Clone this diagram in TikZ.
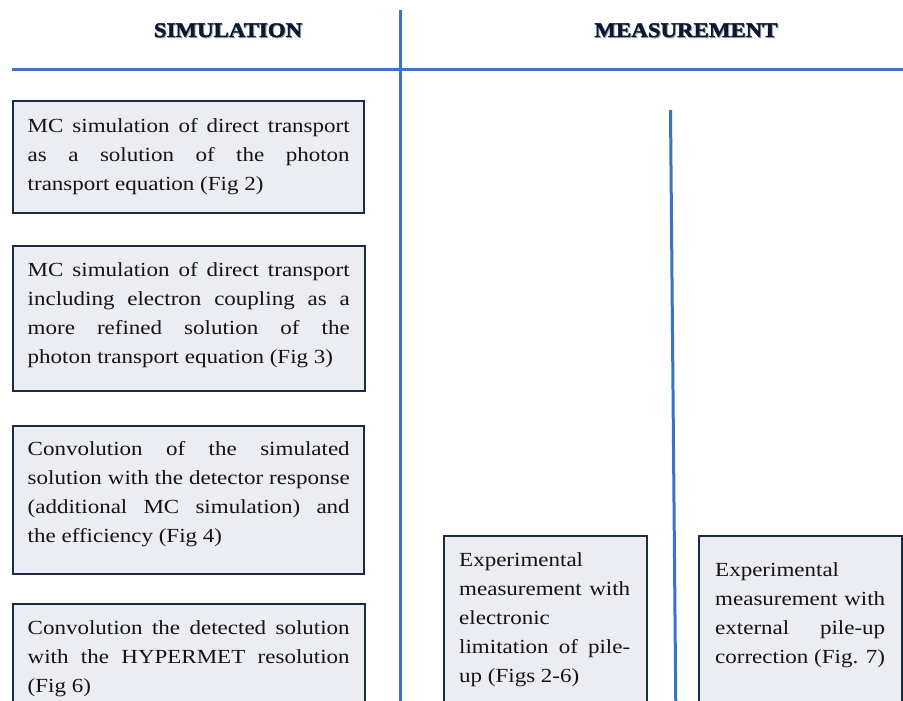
\documentclass[tikz,border=0pt]{standalone}
\usepackage{fontspec}
\setmainfont{Liberation Serif}[FakeStretch=1.15]
\newfontfamily\headfont{Liberation Serif}[FakeStretch=1.1, FakeBold=1.8, BoldFont={* Bold}]
\definecolor{rule}{HTML}{3A72C6}
\definecolor{boxline}{HTML}{1C2B48}
\definecolor{boxfill}{HTML}{EBEDF2}
\definecolor{heading}{HTML}{0C1830}
\definecolor{headshade}{HTML}{6F7E98}
% justified line and natural (last) line of a box text
\newcommand\jline[1]{\hbox to\linewidth{#1}}
\newcommand\nline[1]{\hbox{#1}}
\tikzset{
  divider/.style={draw=rule, line width=3pt},
  stepbox/.style={draw=boxline, fill=boxfill, line width=2pt, rectangle, inner sep=0pt, anchor=north west},
  boxtext/.style={anchor=base west, inner sep=0pt, text=black!92, font=\fontsize{20}{29}\selectfont},
  headtext/.style={anchor=base, inner sep=0pt, text=heading, font=\headfont\fontsize{20.8}{24}\selectfont\bfseries},
  headshadow/.style={headtext, text=headshade, opacity=0.6},
}
\begin{document}
\begin{tikzpicture}[x=1pt,y=-1pt]
\useasboundingbox (0,0) rectangle (903,701);
\clip (0,0) rectangle (903,701);
\fill[white] (0,0) rectangle (903,701);

% column headings
\node[headshadow] (simshade) at (229,38) {SIMULATION};
\node[headtext] (simhead) at (228,37) {SIMULATION};
\node[headshadow] (measshade) at (687,38) {MEASUREMENT};
\node[headtext] (meashead) at (686,37) {MEASUREMENT};

% dividing rules
\coordinate (htop) at (12,70);
\coordinate (hend) at (905,70);
\coordinate (vtop) at (400,10);
\coordinate (vend) at (400,705);
\coordinate (mtop) at (670.5,110);
\coordinate (mend) at (675.8,705);
\draw[divider] (htop) -- (hend);
\draw[divider] (vtop) -- (vend);
\draw[divider] (mtop) -- (mend);

% simulation steps
\node[stepbox, minimum width=351pt, minimum height=112pt] (sim1) at (12,100) {};
\node[boxtext] (sim1t) at (27.5,132) {\parbox[t]{322pt}{%
  \jline{MC simulation of direct transport}
  \jline{as a solution of the photon}
  \nline{transport equation (Fig 2)}}};

\node[stepbox, minimum width=352pt, minimum height=145pt] (sim2) at (12,245) {};
\node[boxtext] (sim2t) at (27.5,276) {\parbox[t]{322pt}{%
  \jline{MC simulation of direct transport}
  \jline{including electron coupling as a}
  \jline{more refined solution of the}
  \nline{photon transport equation (Fig 3)}}};

\node[stepbox, minimum width=351pt, minimum height=148pt] (sim3) at (12,425) {};
\node[boxtext] (sim3t) at (27.5,455) {\parbox[t]{322pt}{%
  \jline{Convolution of the simulated}
  \jline{solution with the detector response}
  \jline{(additional MC simulation) and}
  \nline{the efficiency (Fig 4)}}};

\node[stepbox, minimum width=352pt, minimum height=120pt] (sim4) at (12,603) {};
\node[boxtext] (sim4t) at (27.5,634) {\parbox[t]{322pt}{%
  \jline{Convolution the detected solution}
  \jline{with the HYPERMET resolution}
  \nline{(Fig 6)}}};

% measurement steps
\node[stepbox, minimum width=203pt, minimum height=190pt] (meas1) at (443,535) {};
\node[boxtext] (meas1t) at (459,566) {\parbox[t]{171pt}{%
  \nline{Experimental}
  \jline{measurement with}
  \nline{electronic}
  \jline{limitation of pile-}
  \nline{up (Figs 2-6)}}};

\node[stepbox, minimum width=203pt, minimum height=190pt] (meas2) at (698,535) {};
\node[boxtext] (meas2t) at (715,576) {\parbox[t]{170pt}{%
  \nline{Experimental}
  \jline{measurement with}
  \jline{external pile-up}
  \nline{correction (Fig. 7)}}};
\end{tikzpicture}
\end{document}
